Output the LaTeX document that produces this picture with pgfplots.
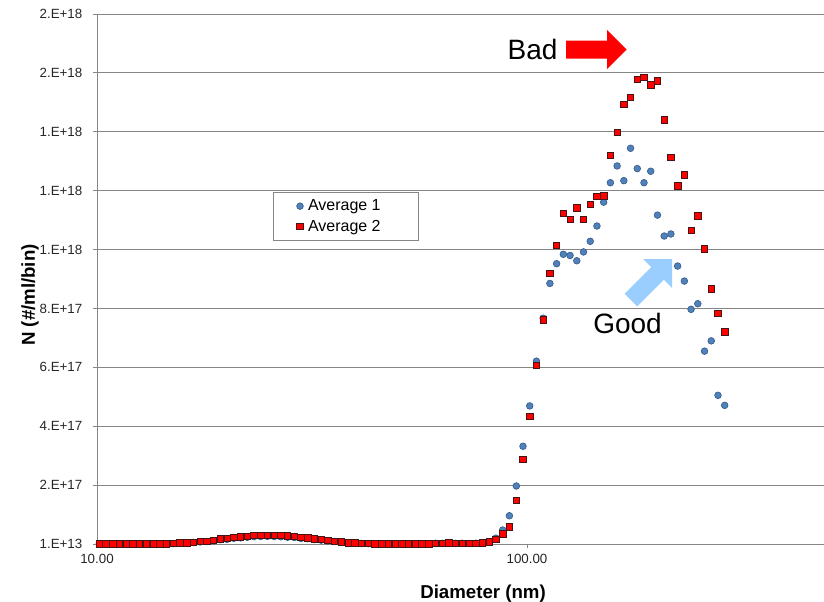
\documentclass[border=0pt]{standalone}
\usepackage{pgfplots}
\pgfplotsset{compat=1.18}
\usepackage{pgfplotstable}
\usepackage{fontspec}
\setmainfont{Liberation Sans}
\definecolor{gridgray}{RGB}{134,134,134}
\definecolor{serblue}{RGB}{79,129,189}
\definecolor{serblueedge}{RGB}{56,93,138}
\definecolor{arrowblue}{RGB}{153,206,255}
\definecolor{rededge}{RGB}{70,20,20}

\pgfplotstableread{
d a1 a2
10.124 1e15 1e15
10.495 1e15 1e15
10.879 1e15 1e15
11.278 1e15 1e15
11.691 1e15 1e15
12.120 1e15 1e15
12.564 1e15 1e15
13.025 1e15 1e15
13.502 1e15 1e15
13.997 1e15 1e15
14.510 1e15 1e15
15.042 1.2e15 1.5e15
15.594 3.0e15 3.4e15
16.165 4.0e15 4.5e15
16.758 5.0e15 5.7e15
17.372 7.0e15 8.2e15
18.009 8.5e15 1.0e16
18.669 1.07e16 1.26e16
19.353 1.45e16 1.7e16
20.063 1.6e16 1.9e16
20.798 1.95e16 2.3e16
21.561 2.1e16 2.5e16
22.351 2.3e16 2.7e16
23.170 2.5e16 2.95e16
24.019 2.55e16 3.0e16
24.900 2.6e16 3.05e16
25.813 2.55e16 3.0e16
26.759 2.45e16 2.9e16
27.740 2.3e16 2.75e16
28.757 2.2e16 2.6e16
29.811 1.9e16 2.25e16
30.904 1.8e16 2.15e16
32.037 1.5e16 1.75e16
33.211 1.3e16 1.5e16
34.429 1.0e16 1.2e16
35.691 8.5e15 1.0e16
36.999 6e15 7e15
38.356 4e15 4.5e15
39.762 3e15 3.4e15
41.219 2e15 2.3e15
42.731 1.3e15 1.5e15
44.297 1e15 1e15
45.921 1e15 1e15
47.604 1e15 1e15
49.349 1e15 1e15
51.158 1e15 1e15
53.034 1e15 1e15
54.978 1e15 1e15
56.993 1e15 1e15
59.082 1e15 1e15
61.248 2.5e15 3e15
63.494 2e15 2.5e15
65.821 3e15 3.5e15
68.234 2e15 2.5e15
70.735 2.5e15 3e15
73.328 1.8e15 2e15
76.016 2.5e15 3e15
78.803 4e15 4.4e15
81.692 7e15 6.8e15
84.686 2.0e16 1.6e16
87.791 4.75e16 3.4e16
91.009 9.6e16 5.8e16
94.445 1.97e17 1.49e17
97.875 3.32e17 2.88e17
101.46 4.69e17 4.33e17
105.18 6.21e17 6.06e17
109.04 7.67e17 7.61e17
113.04 8.85e17 9.19e17
117.18 9.52e17 1.015e18
121.48 9.84e17 1.124e18
125.93 9.80e17 1.103e18
130.55 9.62e17 1.142e18
135.33 9.92e17 1.103e18
140.29 1.028e18 1.154e18
145.44 1.080e18 1.181e18
150.77 1.161e18 1.183e18
156.29 1.227e18 1.320e18
162.02 1.284e18 1.399e18
167.96 1.234e18 1.493e18
174.12 1.344e18 1.518e18
180.50 1.275e18 1.578e18
187.12 1.227e18 1.584e18
193.98 1.266e18 1.560e18
201.09 1.117e18 1.573e18
208.46 1.046e18 1.441e18
216.10 1.053e18 1.313e18
224.03 9.44e17 1.216e18
232.24 8.93e17 1.254e18
240.75 7.97e17 1.066e18
249.58 8.16e17 1.114e18
258.73 6.55e17 1.003e18
268.21 6.90e17 8.66e17
278.04 5.05e17 7.84e17
288.23 4.71e17 7.20e17
}\sizedata

\begin{document}
\begin{tikzpicture}
\begin{axis}[
  at={(72.75pt,-408pt)}, anchor=south west,
  scale only axis, width=545.25pt, height=397.5pt,
  xmode=log, xmin=10, xmax=490.6,
  ymin=1e13, ymax=1.8e18,
  clip=false,
  axis lines*=left,
  axis line style={gridgray, line width=0.75pt},
  tick align=outside,
  major tick length=3pt,
  tick style={gridgray, line width=0.75pt},
  xminorticks=false, yminorticks=false,
  xtick={10,100}, xticklabels={10.00,100.00},
  ytick={1e13,2e17,4e17,6e17,8e17,1e18,1.2e18,1.4e18,1.6e18,1.8e18},
  yticklabels={1.E+13,2.E+17,4.E+17,6.E+17,8.E+17,1.E+18,1.E+18,1.E+18,2.E+18,2.E+18},
  scaled y ticks=false,
  ymajorgrids=true,
  grid style={gridgray, line width=0.75pt},
  yticklabel style={font=\fontsize{10}{12}\selectfont, text=black!85, xshift=-4.5pt},
  xticklabel style={font=\fontsize{10}{12}\selectfont, text=black!85, yshift=-1pt},
  xlabel={Diameter (nm)},
  ylabel={N (\#/ml/bin)},
  xlabel style={font=\bfseries\fontsize{14}{16}\selectfont, at={(axis description cs:0.531,-0.1019)}, anchor=base},
  ylabel style={font=\bfseries\fontsize{14}{16}\selectfont, at={(axis description cs:-0.0853,0.4698)}, anchor=base},
  legend style={at={(axis description cs:0.2421,0.6642)}, anchor=north west,
    draw=gridgray, line width=0.5pt, font=\fontsize{12}{14}\selectfont,
    inner xsep=6pt, inner ysep=3.5pt, row sep=1.5pt},
  legend cell align=left,
  legend image code/.code={\path[draw=none, fill=none] (-14pt,0pt) -- (4pt,0pt); \draw[#1, draw=none] plot coordinates {(0pt,0pt)};},
]
\addplot[only marks, mark=*, mark size=2.5pt, mark options={fill=serblue, draw=serblueedge, line width=0.5pt}] table[x=d, y=a1] {\sizedata};
\addlegendentry{Average 1\hspace*{20pt}}
\addplot[only marks, mark=square*, mark size=2.4pt, mark options={fill=red, draw=rededge, line width=0.5pt}] table[x=d, y=a2] {\sizedata};
\addlegendentry{Average 2\hspace*{20pt}}
\end{axis}
\begin{scope}[x=0.75pt, y=-0.75pt]
\fill[red] (566,40.5) -- (607,40.5) -- (607,30) -- (626.5,49.5) -- (607,69) -- (607,58.5) -- (566,58.5) -- cycle;
\fill[arrowblue] (672,259) -- (643,259) -- (651.14,267.14) -- (624.64,293.64) -- (637.36,306.36) -- (663.86,279.86) -- (672,288) -- cycle;
\node[font=\fontsize{21}{25}\selectfont] at (532.5,49.5) {Bad};
\node[font=\fontsize{21}{25}\selectfont] at (627.5,323) {Good};
\end{scope}
\pgfresetboundingbox
\path[use as bounding box] (0,0) rectangle (618pt,-450.75pt);
\end{tikzpicture}
\end{document}
